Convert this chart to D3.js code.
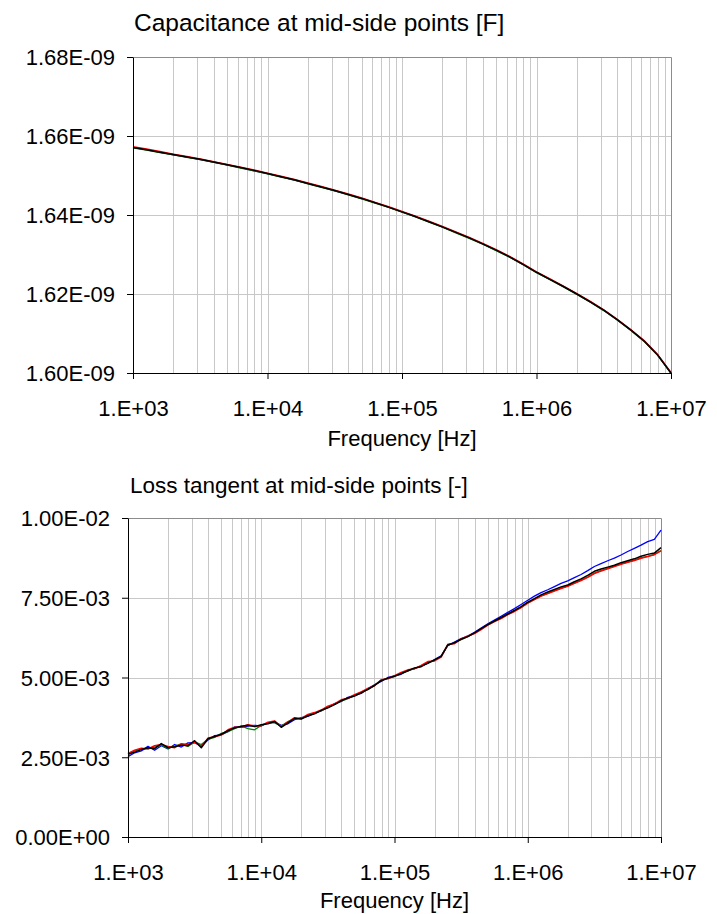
<!DOCTYPE html>
<html>
<head>
<meta charset="utf-8">
<script src="https://cdn.jsdelivr.net/npm/d3@7"></script>
<style>
  body { margin: 0; background: #fff; }
  svg { display: block; }
  text { font-family: "Liberation Sans", Arial, Helvetica, sans-serif; fill: #000; }
</style>
</head>
<body>
<svg id="chart" width="717" height="914"></svg>
<script>
// ---------- data ----------
// Frequency grid for the capacitance sweep (10 points per decade), Hz
const capFreq = [
  1.000e3, 1.259e3, 1.585e3, 1.995e3, 2.512e3, 3.162e3, 3.981e3, 5.012e3, 6.310e3, 7.943e3,
  1.000e4, 1.259e4, 1.585e4, 1.995e4, 2.512e4, 3.162e4, 3.981e4, 5.012e4, 6.310e4, 7.943e4,
  1.000e5, 1.259e5, 1.585e5, 1.995e5, 2.512e5, 3.162e5, 3.981e5, 5.012e5, 6.310e5, 7.943e5,
  1.000e6, 1.259e6, 1.585e6, 1.995e6, 2.512e6, 3.162e6, 3.981e6, 5.012e6, 6.310e6, 7.943e6,
  1.000e7
];

// Capacitance at the four mid-side points, in nF
const capBlack = [
  1.6571, 1.6565, 1.6559, 1.6553, 1.6547, 1.6541, 1.6534, 1.6527, 1.6520, 1.6513,
  1.6505, 1.6497, 1.6489, 1.6480, 1.6471, 1.6462, 1.6452, 1.6442, 1.6431, 1.6420,
  1.6408, 1.6396, 1.6383, 1.6370, 1.6356, 1.6342, 1.6327, 1.6311, 1.6294, 1.6275,
  1.6255, 1.6237, 1.6219, 1.6200, 1.6180, 1.6159, 1.6135, 1.6109, 1.6081, 1.6046,
  1.6000
];
const capRed = [
  1.6573, 1.6567, 1.6561, 1.6554, 1.6548, 1.6542, 1.6535, 1.6528, 1.6521, 1.6514,
  1.6506, 1.6498, 1.6490, 1.6481, 1.6472, 1.6463, 1.6453, 1.6443, 1.6432, 1.6421,
  1.6409, 1.6397, 1.6384, 1.6371, 1.6357, 1.6343, 1.6328, 1.6312, 1.6295, 1.6276,
  1.6256, 1.6238, 1.6220, 1.6201, 1.6181, 1.6160, 1.6136, 1.6110, 1.6082, 1.6047,
  1.6001
];
const capGreen = [
  1.6570, 1.6564, 1.6558, 1.6552, 1.6546, 1.6540, 1.6533, 1.6526, 1.6519, 1.6512,
  1.6504, 1.6496, 1.6488, 1.6479, 1.6470, 1.6461, 1.6451, 1.6441, 1.6430, 1.6419,
  1.6407, 1.6395, 1.6382, 1.6369, 1.6355, 1.6341, 1.6326, 1.6310, 1.6293, 1.6274,
  1.6254, 1.6236, 1.6218, 1.6199, 1.6179, 1.6158, 1.6134, 1.6108, 1.6080, 1.6045,
  1.5999
];
const capBlue = [
  1.6571, 1.6566, 1.6559, 1.6552, 1.6547, 1.6540, 1.6534, 1.6527, 1.6520, 1.6512,
  1.6505, 1.6497, 1.6488, 1.6480, 1.6471, 1.6461, 1.6452, 1.6442, 1.6431, 1.6420,
  1.6408, 1.6396, 1.6383, 1.6370, 1.6356, 1.6342, 1.6327, 1.6311, 1.6294, 1.6275,
  1.6255, 1.6237, 1.6219, 1.6200, 1.6180, 1.6159, 1.6135, 1.6109, 1.6081, 1.6046,
  1.6000
];

// Frequency grid for the loss-tangent sweep (20 points per decade), Hz
const lossFreq = [
  1.000e3, 1.122e3, 1.259e3, 1.413e3, 1.585e3, 1.778e3, 1.995e3, 2.239e3, 2.512e3, 2.818e3,
  3.162e3, 3.548e3, 3.981e3, 4.467e3, 5.012e3, 5.623e3, 6.310e3, 7.079e3, 7.943e3, 8.913e3,
  1.000e4, 1.122e4, 1.259e4, 1.413e4, 1.585e4, 1.778e4, 1.995e4, 2.239e4, 2.512e4, 2.818e4,
  3.162e4, 3.548e4, 3.981e4, 4.467e4, 5.012e4, 5.623e4, 6.310e4, 7.079e4, 7.943e4, 8.913e4,
  1.000e5, 1.122e5, 1.259e5, 1.413e5, 1.585e5, 1.778e5, 1.995e5, 2.239e5, 2.512e5, 2.818e5,
  3.162e5, 3.548e5, 3.981e5, 4.467e5, 5.012e5, 5.623e5, 6.310e5, 7.079e5, 7.943e5, 8.913e5,
  1.000e6, 1.122e6, 1.259e6, 1.413e6, 1.585e6, 1.778e6, 1.995e6, 2.239e6, 2.512e6, 2.818e6,
  3.162e6, 3.548e6, 3.981e6, 4.467e6, 5.012e6, 5.623e6, 6.310e6, 7.079e6, 7.943e6, 8.913e6,
  1.000e7
];

// Loss tangent at the four mid-side points, in units of 1e-3
const lossBlue = [
  2.52, 2.64, 2.70, 2.84, 2.72, 2.86, 2.76, 2.90, 2.82, 2.95,
  2.96, 2.86, 3.04, 3.18, 3.20, 3.30, 3.45, 3.44, 3.48, 3.50,
  3.48, 3.58, 3.60, 3.50, 3.55, 3.68, 3.74, 3.78, 3.88, 3.95,
  4.06, 4.18, 4.25, 4.38, 4.44, 4.50, 4.65, 4.77, 4.88, 5.00,
  5.05, 5.10, 5.22, 5.28, 5.36, 5.44, 5.56, 5.68, 6.00, 6.11,
  6.22, 6.30, 6.42, 6.55, 6.68, 6.80, 6.92, 7.04, 7.16, 7.29,
  7.42, 7.55, 7.66, 7.75, 7.85, 7.95, 8.03, 8.13, 8.23, 8.35,
  8.48, 8.57, 8.66, 8.74, 8.84, 8.95, 9.05, 9.15, 9.26, 9.33,
  9.62
];
const lossGreen = [
  2.60, 2.70, 2.76, 2.78, 2.82, 2.88, 2.78, 2.85, 2.92, 2.84,
  2.98, 2.90, 3.06, 3.12, 3.25, 3.30, 3.40, 3.48, 3.40, 3.36,
  3.50, 3.58, 3.58, 3.48, 3.62, 3.70, 3.72, 3.82, 3.88, 3.96,
  4.08, 4.16, 4.26, 4.34, 4.44, 4.54, 4.62, 4.76, 4.92, 4.97,
  5.03, 5.14, 5.20, 5.29, 5.36, 5.46, 5.54, 5.66, 6.02, 6.08,
  6.19, 6.28, 6.39, 6.52, 6.65, 6.76, 6.86, 6.98, 7.09, 7.20,
  7.34, 7.45, 7.56, 7.64, 7.72, 7.80, 7.87, 7.96, 8.05, 8.15,
  8.27, 8.35, 8.42, 8.49, 8.56, 8.62, 8.68, 8.75, 8.80, 8.86,
  8.98
];
const lossRed = [
  2.62, 2.72, 2.78, 2.76, 2.86, 2.90, 2.84, 2.80, 2.92, 2.90,
  2.97, 2.84, 3.10, 3.14, 3.20, 3.36, 3.44, 3.45, 3.52, 3.48,
  3.49, 3.60, 3.64, 3.46, 3.60, 3.74, 3.71, 3.84, 3.90, 3.98,
  4.10, 4.17, 4.30, 4.35, 4.46, 4.55, 4.66, 4.74, 4.93, 4.96,
  5.06, 5.16, 5.24, 5.27, 5.38, 5.50, 5.52, 5.64, 6.04, 6.06,
  6.21, 6.30, 6.38, 6.50, 6.64, 6.75, 6.85, 6.97, 7.07, 7.19,
  7.33, 7.44, 7.55, 7.63, 7.71, 7.79, 7.86, 7.95, 8.04, 8.14,
  8.26, 8.34, 8.41, 8.48, 8.55, 8.61, 8.67, 8.74, 8.79, 8.85,
  8.97
];
const lossBlack = [
  2.59, 2.66, 2.74, 2.80, 2.77, 2.93, 2.80, 2.83, 2.88, 2.86,
  3.02, 2.80, 3.08, 3.15, 3.22, 3.33, 3.42, 3.47, 3.50, 3.46,
  3.52, 3.55, 3.62, 3.44, 3.58, 3.72, 3.70, 3.80, 3.86, 3.97,
  4.05, 4.15, 4.27, 4.36, 4.42, 4.52, 4.63, 4.75, 4.90, 4.98,
  5.04, 5.12, 5.21, 5.30, 5.34, 5.45, 5.55, 5.66, 6.02, 6.09,
  6.20, 6.28, 6.40, 6.53, 6.66, 6.77, 6.88, 6.99, 7.10, 7.22,
  7.36, 7.47, 7.59, 7.68, 7.76, 7.84, 7.90, 8.00, 8.09, 8.20,
  8.33, 8.40, 8.46, 8.52, 8.60, 8.66, 8.72, 8.80, 8.86, 8.90,
  9.07
];

// Axis ticks and labels
const freqTicks = [1e3, 1e4, 1e5, 1e6, 1e7];
const freqTickLabels = ["1.E+03", "1.E+04", "1.E+05", "1.E+06", "1.E+07"];
const capTicks = [1.60, 1.62, 1.64, 1.66, 1.68];
const capTickLabels = ["1.60E-09", "1.62E-09", "1.64E-09", "1.66E-09", "1.68E-09"];
const lossTicks = [0, 2.5, 5.0, 7.5, 10.0];
const lossTickLabels = ["0.00E+00", "2.50E-03", "5.00E-03", "7.50E-03", "1.00E-02"];

const seriesColors = { blue: "#0000ff", green: "#008000", red: "#ff0000", black: "#000000" };

// ---------- drawing ----------
const svg = d3.select("#chart");

function drawPanel(cfg) {
  const g = svg.append("g");
  const x = d3.scaleLog().domain([1e3, 1e7]).range([cfg.left, cfg.right]);
  const y = d3.scaleLinear().domain(cfg.yDomain).range([cfg.bottom, cfg.top]);
  const px = v => Math.round(v) + 0.5;

  // vertical log grid (every 1..9 x 10^n)
  const gridX = [];
  for (let d = 3; d < 7; d++) {
    for (let k = 1; k < 10; k++) {
      const v = k * Math.pow(10, d);
      if (v > 1e3) gridX.push(v);
    }
  }
  g.append("g").selectAll("line").data(gridX).join("line")
    .attr("x1", d => px(x(d))).attr("x2", d => px(x(d)))
    .attr("y1", cfg.top).attr("y2", cfg.bottom)
    .attr("stroke", "#c8c8c8").attr("stroke-width", 1);

  // horizontal grid
  g.append("g").selectAll("line").data(cfg.yTicks.slice(1, -1)).join("line")
    .attr("x1", cfg.left).attr("x2", cfg.right)
    .attr("y1", d => px(y(d))).attr("y2", d => px(y(d)))
    .attr("stroke", "#c8c8c8").attr("stroke-width", 1);

  // plot frame: top and right edges
  g.append("path")
    .attr("d", `M${cfg.left},${px(cfg.top)}H${px(cfg.right)}V${cfg.bottom}`)
    .attr("fill", "none").attr("stroke", "#8c8c8c").attr("stroke-width", 1);

  // series
  const line = d3.line()
    .x((d, i) => x(cfg.freq[i]))
    .y(d => y(d));
  cfg.series.forEach(s => {
    g.append("path")
      .datum(s.values)
      .attr("d", line)
      .attr("fill", "none")
      .attr("stroke", seriesColors[s.color])
      .attr("stroke-width", s.width)
      .attr("stroke-linejoin", "round");
  });

  // y axis
  const yAxis = d3.axisLeft(y)
    .tickValues(cfg.yTicks)
    .tickFormat((d, i) => cfg.yTickLabels[i])
    .tickSizeInner(6).tickSizeOuter(0).tickPadding(12);
  const ya = g.append("g").attr("transform", `translate(${cfg.left},0)`).call(yAxis);
  ya.selectAll("text").attr("font-size", 22).attr("font-family", null).attr("dy", "0.36em");
  ya.selectAll("line, path").attr("stroke", "#000");

  // x axis
  const xAxis = d3.axisBottom(x)
    .tickValues(freqTicks)
    .tickFormat((d, i) => freqTickLabels[i])
    .tickSizeInner(6).tickSizeOuter(0).tickPadding(21);
  const xa = g.append("g").attr("transform", `translate(0,${cfg.bottom})`).call(xAxis);
  xa.selectAll("text").attr("font-size", 22).attr("font-family", null);
  xa.selectAll("line, path").attr("stroke", "#000");

  // titles
  g.append("text")
    .attr("x", cfg.titleX).attr("y", cfg.titleY)
    .attr("font-size", cfg.titleSize)
    .text(cfg.title);
  g.append("text")
    .attr("x", (cfg.left + cfg.right) / 2).attr("y", cfg.bottom + cfg.xTitleGap)
    .attr("text-anchor", "middle")
    .attr("font-size", 22)
    .text("Frequency [Hz]");
}

drawPanel({
  left: 133, right: 671, top: 57, bottom: 373,
  yDomain: [1.60, 1.68],
  yTicks: capTicks, yTickLabels: capTickLabels,
  freq: capFreq,
  series: [
    { values: capBlue, color: "blue", width: 1.3 },
    { values: capGreen, color: "green", width: 1.3 },
    { values: capRed, color: "red", width: 1.5 },
    { values: capBlack, color: "black", width: 1.5 }
  ],
  title: "Capacitance at mid-side points [F]",
  titleX: 134, titleY: 31, titleSize: 24.5, xTitleGap: 73
});

drawPanel({
  left: 128, right: 661, top: 518, bottom: 837,
  yDomain: [0, 10],
  yTicks: lossTicks, yTickLabels: lossTickLabels,
  freq: lossFreq,
  series: [
    { values: lossBlue, color: "blue", width: 1.3 },
    { values: lossGreen, color: "green", width: 1.3 },
    { values: lossRed, color: "red", width: 1.5 },
    { values: lossBlack, color: "black", width: 1.5 }
  ],
  title: "Loss tangent at mid-side points [-]",
  titleX: 130, titleY: 493, titleSize: 22.5, xTitleGap: 71
});
</script>
</body>
</html>
